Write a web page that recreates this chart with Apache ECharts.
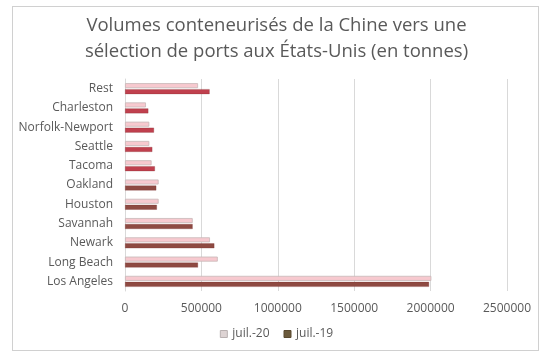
<!DOCTYPE html>
<html><head><meta charset="utf-8">
<script src="https://cdn.jsdelivr.net/npm/echarts@6/dist/echarts.min.js"></script>
<style>html,body{margin:0;padding:0;background:#fff}#c{width:553px;height:358px}
#f{position:absolute;left:12px;top:6px;width:527px;height:345px;border:1px solid #d0d0d0;box-sizing:border-box;pointer-events:none}</style>
</head><body><div id="c"></div><div id="f"></div>
<script>
var categories = ['Los Angeles','Long Beach','Newark','Savannah','Houston','Oakland','Tacoma','Seattle','Norfolk-Newport','Charleston','Rest'];
var juil20 = [2005000, 607000, 556000, 443000, 220000, 220000, 174000, 159000, 159000, 137000, 478000];
var juil19 = [1990000, 478000, 585000, 443000, 209000, 205000, 196000, 179000, 190000, 153000, 554000];
var seriesNames = ['juil.-20','juil.-19'];
var xTicks = [0, 500000, 1000000, 1500000, 2000000, 2500000];

var chart = echarts.init(document.getElementById('c'));
var font = '"Open Sans", sans-serif';
chart.setOption({
  animation: false,
  title: {
    text: 'Volumes conteneurisés de la Chine vers une\nsélection de ports aux États-Unis (en tonnes)',
    left: 'center', top: 8,
    textStyle: {fontFamily: font, fontSize: 18.5, fontWeight: 'normal', color: '#595959', lineHeight: 26}
  },
  legend: {
    bottom: 13, left: 'center', itemWidth: 7, itemHeight: 7, itemGap: 14,
    textStyle: {fontFamily: font, fontSize: 12, color: '#595959'},
    data: [
      {name: seriesNames[0], icon: 'rect', itemStyle: {color: '#ddd3d3', borderColor: '#b8b0b0', borderWidth: 1}},
      {name: seriesNames[1], icon: 'rect', itemStyle: {color: '#6b5a3c', borderColor: '#5a4a30', borderWidth: 1}}
    ]
  },
  grid: {left: 125, right: 46, top: 79, bottom: 67},
  xAxis: {
    type: 'value', min: xTicks[0], max: xTicks[xTicks.length-1], interval: 500000,
    axisLine: {show: false}, axisTick: {show: false},
    splitLine: {lineStyle: {color: '#d9d9d9'}},
    axisLabel: {fontFamily: font, fontSize: 12, color: '#595959', margin: 12, formatter: function(v){ return String(v); }}
  },
  yAxis: {
    type: 'category', data: categories,
    axisLine: {show: true, lineStyle: {color: '#d9d9d9'}}, axisTick: {show: false},
    axisLabel: {fontFamily: font, fontSize: 12, color: '#595959', margin: 12}
  },
  series: [
    {name: seriesNames[0], type: 'bar', data: juil20, barWidth: 5, barGap: '20%',
     itemStyle: {color: '#f7c9cf', borderColor: '#c8b8b8', borderWidth: 0.8}},
    {name: seriesNames[1], type: 'bar', data: juil19, barWidth: 5, barGap: '20%',
     itemStyle: {color: function(p){ return p.dataIndex >= 6 ? '#c0404e' : '#8e4a42'; }, borderColor: 'rgba(120,40,40,0.5)', borderWidth: 0.5}}
  ]
});
</script></body></html>
